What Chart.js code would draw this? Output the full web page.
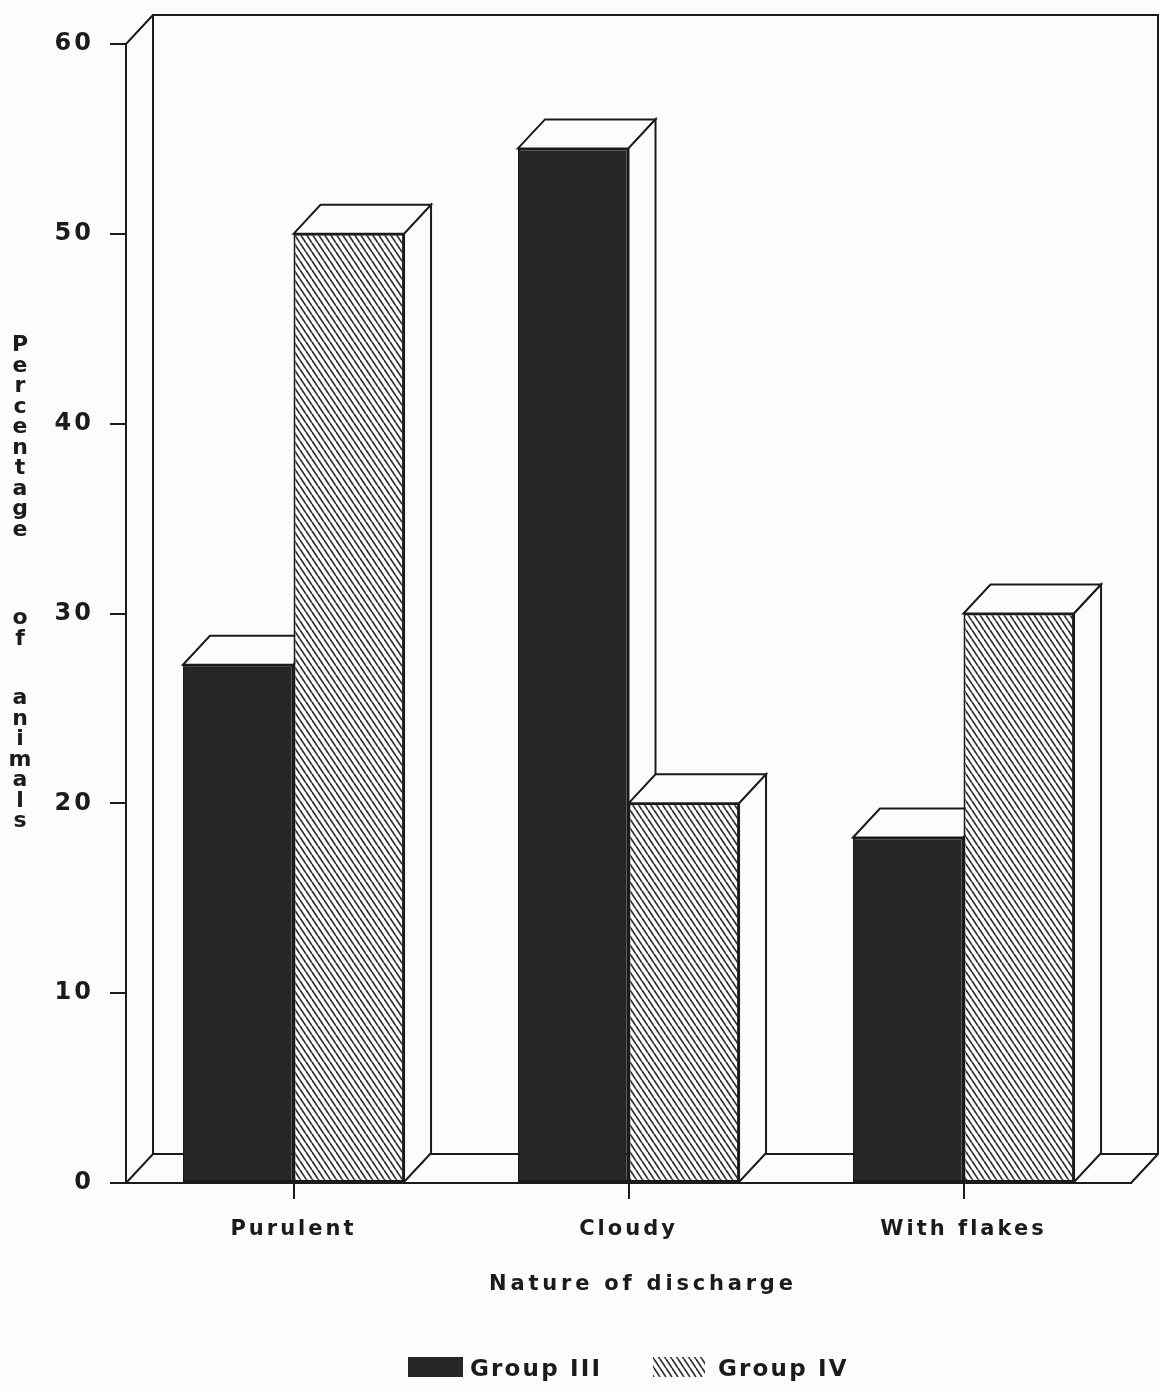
<!DOCTYPE html>
<html>
<head>
<meta charset="utf-8">
<script src="https://cdn.jsdelivr.net/npm/chart.js@4.4.1/dist/chart.umd.min.js"></script>
<style>
  html, body { margin: 0; padding: 0; background: #fcfcfa; }
  canvas { display: block; }
</style>
</head>
<body>
<canvas id="chart" width="1159" height="1392"></canvas>
<script>
// ---- data ----
const categories = ['Purulent', 'Cloudy', 'With flakes'];
const groupIII = [27.3, 54.5, 18.2];
const groupIV = [50, 20, 30];
const yTicks = [0, 10, 20, 30, 40, 50, 60];
const seriesNames = ['Group III', 'Group IV'];
const yTitleWords = ['Percentage', 'of', 'animals'];
const xTitle = 'Nature of discharge';

// ---- styling ----
const INK = '#1b1b1b';
const DARK = '#262626';
const BG = '#fcfcfa';
const DX = 27, DY = 29;            // oblique depth of the 3D projection
const FONT = '"DejaVu Sans", "Liberation Sans", Arial, sans-serif';
const TRACKING = '3px';            // letter spacing for axis tick text

const canvas = document.getElementById('chart');
const ctx = canvas.getContext('2d');

// diagonal hatching used for the second series
function makeHatch() {
  const w = 6, h = 9;
  const tile = document.createElement('canvas');
  tile.width = w; tile.height = h;
  const g = tile.getContext('2d');
  g.fillStyle = '#ffffff';
  g.fillRect(0, 0, w, h);
  g.strokeStyle = '#303030';
  g.lineWidth = 1.7;
  for (let k = -1; k <= 1; k++) {
    g.beginPath();
    g.moveTo(k * w, 0);
    g.lineTo(k * w + w, h);
    g.stroke();
  }
  return ctx.createPattern(tile, 'repeat');
}
const HATCH = makeHatch();

// top and right-hand faces of every bar of one dataset
function drawFaces(chart, datasetIndex) {
  const c = chart.ctx;
  const meta = chart.getDatasetMeta(datasetIndex);
  c.save();
  c.lineWidth = 2;
  c.strokeStyle = INK;
  c.fillStyle = BG;
  c.lineJoin = 'miter';
  meta.data.forEach(el => {
    const p = el.getProps(['x', 'y', 'base', 'width'], true);
    const L = p.x - p.width / 2, R = p.x + p.width / 2;
    const T = Math.min(p.y, p.base), B = Math.max(p.y, p.base);
    // top face
    c.beginPath();
    c.moveTo(L, T); c.lineTo(L + DX, T - DY); c.lineTo(R + DX, T - DY); c.lineTo(R, T);
    c.closePath();
    c.fill(); c.stroke();
    // side face
    c.beginPath();
    c.moveTo(R, T); c.lineTo(R + DX, T - DY); c.lineTo(R + DX, B - DY); c.lineTo(R, B);
    c.closePath();
    c.fill(); c.stroke();
  });
  c.restore();
}

function spacedText(c, text, x, y, size, spacing, align) {
  c.save();
  c.font = 'bold ' + size + 'px ' + FONT;
  c.letterSpacing = spacing + 'px';
  c.fillStyle = INK;
  c.textBaseline = 'alphabetic';
  const w = c.measureText(text).width - spacing;
  const sx = align === 'center' ? x - w / 2 : x;
  c.textAlign = 'left';
  c.fillText(text, sx, y);
  c.restore();
}

const depthPlugin = {
  id: 'depth3d',
  beforeUpdate(chart) { chart.ctx.letterSpacing = TRACKING; },
  beforeDraw(chart) { chart.ctx.letterSpacing = TRACKING; },
  beforeDatasetsDraw(chart) {
    const c = chart.ctx, a = chart.chartArea;
    c.save();
    c.strokeStyle = INK;
    c.lineWidth = 2;
    c.beginPath();
    // floor
    c.moveTo(a.left, a.bottom); c.lineTo(a.left + DX, a.bottom - DY);
    c.lineTo(a.right + DX, a.bottom - DY); c.lineTo(a.right, a.bottom);
    // back wall
    c.moveTo(a.left + DX, a.bottom - DY); c.lineTo(a.left + DX, a.top - DY);
    c.lineTo(a.right + DX, a.top - DY); c.lineTo(a.right + DX, a.bottom - DY);
    // link from the axis top to the wall corner
    c.moveTo(a.left, a.top); c.lineTo(a.left + DX, a.top - DY);
    c.stroke();
    c.restore();
    // faces of the rear-drawn series go under the neighbouring bars
    drawFaces(chart, 0);
  },
  afterDatasetsDraw(chart) {
    drawFaces(chart, 1);
  },
  afterDraw(chart) {
    const c = chart.ctx;
    // vertical stacked axis title
    c.save();
    c.font = 'bold 22px ' + FONT;
    c.letterSpacing = '0px';
    c.fillStyle = INK;
    c.textAlign = 'center';
    c.textBaseline = 'alphabetic';
    const starts = [345, 618, 698];
    const step = 20.5;
    yTitleWords.forEach((word, wi) => {
      [...word].forEach((ch, i) => {
        c.fillText(ch, 20, starts[wi] + i * step + 6);
      });
    });
    c.restore();

    // horizontal axis title
    spacedText(c, xTitle, 641, 1290, 21, 3.8, 'center');

    // legend
    const swatches = [
      { fill: DARK, x: 408, w: 55, tx: 470 },
      { fill: HATCH, x: 653, w: 52, tx: 718 }
    ];
    swatches.forEach((s, i) => {
      c.save();
      c.fillStyle = s.fill;
      c.fillRect(s.x, 1357, s.w, 20);
      c.restore();
      spacedText(c, seriesNames[i], s.tx, 1376, 23, 2.2, 'left');
    });
  }
};

new Chart(ctx, {
  type: 'bar',
  data: {
    labels: categories,
    datasets: [
      { label: seriesNames[0], data: groupIII, backgroundColor: DARK,
        borderColor: INK, borderWidth: 2, borderSkipped: false },
      { label: seriesNames[1], data: groupIV, backgroundColor: HATCH,
        borderColor: INK, borderWidth: 2, borderSkipped: false }
    ]
  },
  options: {
    responsive: false,
    animation: false,
    devicePixelRatio: 1,
    layout: { padding: { top: 44, right: 28, left: 0, bottom: 0 } },
    datasets: { bar: { categoryPercentage: 0.66, barPercentage: 1.0 } },
    plugins: {
      legend: { display: false },
      tooltip: { enabled: false },
      title: { display: false }
    },
    scales: {
      x: {
        offset: true,
        grid: { display: true, drawOnChartArea: false, drawTicks: true, tickLength: 16,
                offset: false, color: INK, lineWidth: 2 },
        border: { display: true, color: INK, width: 2 },
        ticks: { color: INK, padding: 18, maxRotation: 0,
                 font: { family: FONT, size: 21, weight: 'bold' } },
        afterFit(scale) { scale.height = 209; }
      },
      y: {
        min: 0, max: 60,
        afterBuildTicks(scale) { scale.ticks = yTicks.map(v => ({ value: v })); },
        grid: { display: true, drawOnChartArea: false, drawTicks: true, tickLength: 16,
                color: INK, lineWidth: 2 },
        border: { display: true, color: INK, width: 2 },
        ticks: { color: INK, padding: 16,
                 font: { family: FONT, size: 24, weight: 'bold' } },
        afterFit(scale) { scale.width = 126; }
      }
    }
  },
  plugins: [depthPlugin]
});
</script>
</body>
</html>
